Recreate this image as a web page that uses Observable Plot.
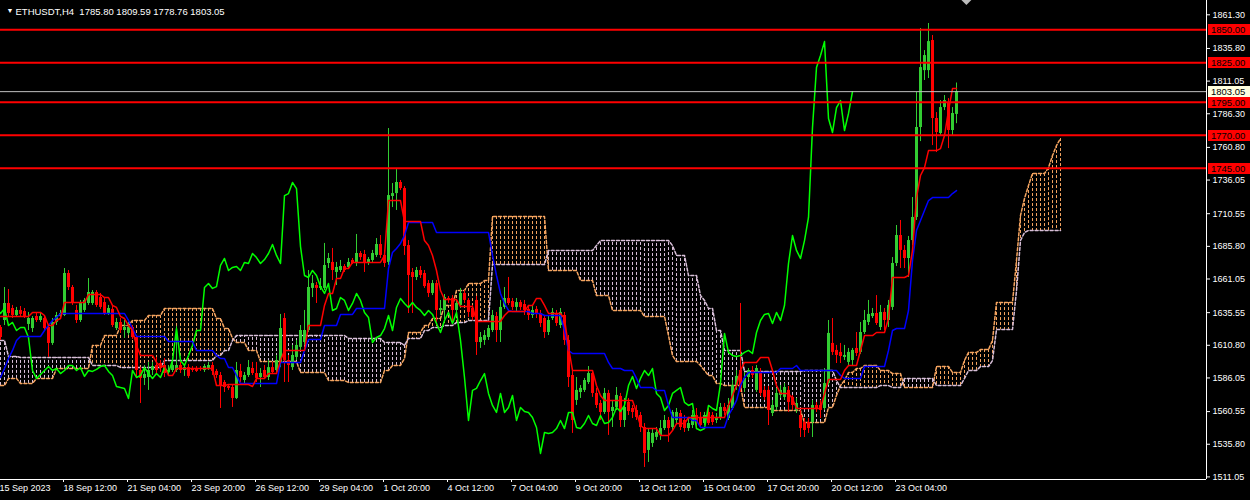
<!DOCTYPE html>
<html><head><meta charset="utf-8">
<script src="https://cdn.jsdelivr.net/npm/d3@7"></script>
<script src="https://cdn.jsdelivr.net/npm/@observablehq/plot@0.6"></script>
<style>
html,body{margin:0;padding:0;background:#000;}
#chart{width:1250px;height:500px;overflow:hidden;}
</style></head><body><div id="chart"></div>
<script>
// ---------- DATA ----------
const symbolTitle = "ETHUSDT,H4  1785.80 1809.59 1778.76 1803.05";
const timeLabels = ["15 Sep 2023","18 Sep 12:00","21 Sep 04:00","23 Sep 20:00","26 Sep 12:00","29 Sep 04:00","1 Oct 20:00","4 Oct 12:00","7 Oct 04:00","9 Oct 20:00","12 Oct 12:00","15 Oct 04:00","17 Oct 20:00","20 Oct 12:00","23 Oct 04:00"];
const timeLabelBars = [0,16,32,48,64,80,96,112,128,144,160,176,192,208,224];
const priceTicks = [1861.30,1835.80,1811.05,1786.30,1760.80,1736.05,1710.55,1685.80,1661.05,1635.55,1610.80,1586.05,1560.55,1535.80,1511.05];
const levels = [1850, 1825, 1795, 1770, 1745];
const lastPrice = 1803.05;

const open = [
1624.3,1629.6,1642.5,1638.7,1633.4,1637.2,1636.4,1626.6,1623.5,1632.6,
1629.6,1631.1,1624.3,1612.2,1628.1,1632.6,1633.4,1665.2,1654.6,1637.2,
1629.6,1637.2,1642.5,1642.5,1650.8,1647.0,1643.2,1634.9,1638.0,1623.5,
1628.1,1622.0,1619.8,1624.3,1616.7,1591.7,1585.7,1586.4,1591.7,1595.5,
1597.0,1595.5,1590.2,1591.7,1591.7,1595.5,1591.7,1593.9,1593.2,1592.5,
1593.2,1591.7,1593.2,1595.5,1591.0,1587.9,1582.6,1579.6,1578.8,1570.5,
1591.0,1584.1,1587.9,1593.2,1589.4,1586.4,1591.7,1586.4,1593.9,1591.7,
1597.8,1631.1,1599.3,1593.9,1601.6,1609.2,1612.9,1622.0,1653.9,1656.1,
1653.9,1653.9,1672.8,1673.6,1666.0,1667.5,1670.5,1669.8,1675.1,1672.8,
1680.4,1679.6,1672.8,1675.1,1678.9,1687.2,1678.9,1673.6,1723.6,1725.8,
1734.2,1729.6,1686.4,1666.0,1662.2,1667.5,1665.2,1657.6,1650.1,1657.6,
1637.2,1637.2,1646.3,1646.3,1637.2,1641.0,1650.1,1644.8,1638.7,1644.8,
1612.9,1614.5,1616.7,1622.0,1632.6,1622.0,1639.5,1646.3,1644.0,1639.5,
1643.2,1641.7,1638.0,1633.4,1638.0,1634.9,1631.1,1620.5,1631.1,1634.9,
1625.8,1633.4,1614.5,1587.9,1569.0,1575.0,1576.6,1582.6,1589.4,1574.3,
1566.7,1559.9,1574.3,1560.6,1563.7,1572.0,1553.8,1567.5,1562.9,1561.4,
1557.6,1548.5,1531.1,1536.4,1541.0,1542.5,1547.7,1553.8,1548.5,1553.8,
1559.1,1553.8,1547.7,1550.0,1557.6,1556.1,1551.5,1559.9,1557.6,1553.8,
1555.3,1563.7,1555.3,1562.9,1580.3,1591.7,1578.1,1586.4,1591.7,1576.6,
1590.2,1576.6,1576.6,1559.1,1563.7,1572.8,1571.3,1576.6,1571.3,1561.4,
1557.6,1552.3,1552.3,1552.3,1565.2,1565.2,1562.9,1581.8,1612.2,1606.9,
1605.4,1601.6,1597.8,1599.3,1608.4,1605.4,1620.5,1628.1,1632.6,1634.9,
1624.3,1635.7,1629.6,1639.5,1672.8,1694.0,1682.7,1676.6,1690.2,1707.7,
1775.9,1819.0,1819.0,1841.8,1782.7,1771.3,1791.0,1794.8,1773.6,1785.80];

const high = [
1625.8,1654.6,1653.1,1641.0,1639.5,1640.2,1638.7,1635.7,1632.6,1634.9,
1635.7,1633.4,1625.8,1631.1,1635.7,1637.2,1669.0,1667.5,1656.1,1641.0,
1644.8,1646.3,1661.4,1652.3,1652.3,1650.1,1646.3,1641.0,1641.0,1631.1,
1631.1,1629.6,1628.1,1625.8,1618.2,1594.0,1595.5,1597.8,1597.8,1601.6,
1599.3,1600.8,1595.5,1600.8,1625.1,1597.8,1596.3,1596.3,1594.7,1594.7,
1594.7,1596.3,1597.8,1597.8,1592.5,1590.2,1584.1,1581.1,1580.3,1597.8,
1596.3,1590.2,1599.3,1597.8,1597.8,1593.2,1595.5,1599.3,1597.8,1603.1,
1634.2,1634.9,1603.1,1610.7,1614.5,1625.8,1637.2,1667.5,1663.7,1658.4,
1661.4,1688.0,1680.4,1684.2,1673.6,1675.1,1672.0,1676.6,1676.6,1694.8,
1681.9,1682.7,1677.3,1682.7,1691.7,1694.0,1682.7,1775.1,1733.4,1744.0,
1735.7,1731.1,1690.2,1669.0,1669.8,1670.5,1667.5,1659.9,1659.9,1659.9,
1644.8,1649.3,1647.8,1648.5,1644.8,1653.9,1652.3,1646.3,1641.0,1647.8,
1620.5,1622.0,1625.8,1637.2,1635.7,1644.8,1654.6,1662.2,1646.3,1646.3,
1644.8,1644.8,1641.0,1641.0,1640.2,1637.2,1633.4,1633.4,1638.7,1637.2,
1638.7,1635.7,1618.2,1591.7,1586.4,1580.3,1585.7,1594.7,1591.7,1578.1,
1569.0,1578.1,1576.6,1569.0,1578.8,1574.3,1570.5,1570.5,1565.2,1565.2,
1559.9,1551.5,1547.7,1547.7,1548.5,1553.8,1557.6,1556.1,1561.4,1562.9,
1561.4,1557.6,1555.3,1561.4,1562.9,1559.9,1559.9,1562.9,1559.9,1559.1,
1566.7,1566.7,1570.5,1584.1,1591.7,1642.5,1590.2,1593.2,1594.7,1595.5,
1593.2,1579.6,1579.6,1569.0,1578.1,1580.3,1581.8,1579.6,1572.8,1570.5,
1561.4,1555.3,1555.3,1569.0,1567.5,1569.0,1593.2,1629.6,1631.1,1610.7,
1612.2,1610.7,1608.4,1608.4,1620.5,1628.1,1637.2,1644.8,1638.7,1648.5,
1641.0,1638.7,1644.8,1677.3,1701.6,1705.4,1686.4,1693.3,1722.8,1802.4,
1850.9,1834.2,1854.7,1845.6,1787.2,1796.3,1800.1,1797.8,1791.0,1809.59];

const low = [
1614.5,1625.8,1632.6,1631.1,1631.9,1632.6,1631.1,1622.0,1620.5,1628.1,
1628.1,1622.0,1601.6,1610.7,1625.8,1631.1,1632.6,1652.3,1641.0,1627.3,
1628.1,1635.7,1641.0,1641.0,1639.5,1638.0,1633.4,1633.4,1624.3,1622.0,
1619.8,1616.0,1618.2,1615.2,1586.4,1566.7,1580.3,1576.6,1587.9,1589.4,
1590.2,1586.4,1587.2,1590.2,1590.2,1589.4,1587.2,1585.7,1590.2,1590.2,
1591.0,1590.2,1591.7,1587.9,1585.7,1562.9,1575.0,1576.6,1563.7,1569.7,
1582.6,1581.1,1586.4,1587.9,1582.6,1578.8,1585.7,1584.1,1588.7,1590.2,
1593.9,1582.6,1582.6,1591.7,1599.3,1606.9,1610.7,1620.5,1647.0,1642.5,
1652.3,1652.3,1669.0,1659.9,1656.1,1666.0,1666.0,1669.0,1672.0,1670.5,
1675.1,1666.0,1671.3,1673.6,1677.3,1676.6,1669.8,1671.3,1715.2,1713.0,
1728.1,1678.9,1634.9,1634.9,1659.9,1661.4,1653.9,1647.0,1648.5,1625.8,
1633.4,1630.4,1642.5,1627.3,1634.9,1638.7,1642.5,1631.9,1629.6,1603.1,
1608.4,1610.7,1614.5,1620.5,1612.9,1612.9,1638.0,1641.0,1637.2,1635.7,
1637.2,1633.4,1629.6,1631.1,1631.1,1624.3,1616.0,1618.2,1629.6,1625.1,
1623.5,1610.7,1578.8,1544.0,1565.2,1570.5,1575.0,1581.1,1571.3,1562.9,
1553.8,1558.4,1542.5,1548.5,1561.4,1548.5,1548.5,1557.6,1555.3,1553.8,
1544.7,1518.2,1522.0,1533.4,1538.7,1538.7,1546.2,1537.2,1546.2,1551.5,
1546.2,1544.7,1545.5,1547.7,1547.7,1547.7,1550.0,1550.0,1550.0,1551.5,
1553.8,1557.6,1553.8,1561.4,1576.6,1575.0,1575.0,1584.1,1585.7,1575.0,
1572.0,1569.0,1550.0,1556.8,1561.4,1570.5,1569.0,1559.9,1561.4,1559.1,
1540.9,1540.9,1544.0,1540.9,1559.9,1555.3,1561.4,1580.3,1603.1,1597.0,
1597.0,1599.3,1595.5,1595.5,1602.3,1603.9,1619.0,1625.8,1631.1,1625.8,
1622.0,1622.0,1624.3,1637.2,1670.5,1669.0,1669.0,1662.2,1686.4,1705.4,
1765.2,1811.5,1813.0,1762.2,1756.9,1769.8,1788.7,1759.9,1769.8,1778.76];

const close = [
1616.7,1642.5,1634.9,1633.4,1637.2,1634.2,1632.6,1631.1,1631.1,1629.6,
1632.6,1623.5,1612.2,1628.1,1633.4,1634.9,1665.2,1654.6,1642.5,1629.6,
1643.2,1644.8,1650.8,1650.8,1641.0,1639.5,1634.9,1638.7,1625.8,1628.1,
1622.0,1624.3,1624.3,1616.7,1591.7,1585.7,1588.7,1591.7,1594.7,1591.7,
1593.2,1589.4,1591.7,1595.5,1595.5,1591.7,1593.9,1587.2,1591.7,1591.0,
1592.5,1594.7,1595.5,1591.0,1587.9,1579.6,1578.8,1578.1,1570.5,1591.7,
1586.4,1587.9,1593.9,1589.4,1585.7,1589.4,1586.4,1593.9,1590.2,1599.3,
1623.5,1599.3,1595.5,1603.1,1610.7,1622.0,1622.0,1654.6,1657.6,1653.9,
1655.3,1671.3,1676.6,1667.5,1669.8,1670.5,1667.5,1673.6,1672.8,1680.4,
1677.3,1672.8,1675.8,1680.4,1687.2,1678.9,1672.8,1724.3,1725.8,1734.2,
1729.6,1685.7,1663.7,1662.2,1667.5,1663.7,1655.3,1650.1,1657.6,1637.2,
1638.7,1647.0,1644.8,1637.2,1642.5,1650.1,1644.8,1635.7,1631.9,1612.9,
1616.7,1618.2,1623.5,1633.4,1622.0,1639.5,1646.3,1642.5,1639.5,1643.2,
1639.5,1637.2,1633.4,1637.2,1634.2,1627.3,1620.5,1629.6,1635.7,1627.3,
1635.7,1614.5,1586.4,1553.8,1576.6,1578.1,1584.1,1589.4,1574.3,1565.2,
1559.9,1574.3,1559.9,1563.7,1572.8,1553.8,1563.7,1560.6,1559.9,1556.1,
1548.5,1528.8,1544.7,1544.0,1544.7,1547.7,1553.8,1547.7,1559.9,1559.9,
1548.5,1547.7,1551.5,1557.6,1551.5,1550.0,1557.6,1551.5,1552.3,1556.1,
1563.7,1560.6,1565.2,1580.3,1587.2,1578.1,1585.7,1591.7,1587.9,1593.2,
1574.3,1571.3,1561.4,1565.2,1574.3,1576.6,1578.8,1567.5,1565.2,1566.7,
1547.7,1546.2,1547.7,1565.2,1562.9,1561.4,1581.8,1619.8,1605.4,1603.1,
1602.3,1603.1,1605.4,1606.9,1604.6,1620.5,1629.6,1634.2,1634.9,1627.3,
1635.7,1629.6,1641.0,1672.8,1694.0,1682.7,1676.6,1690.2,1707.7,1775.9,
1821.3,1830.4,1841.0,1782.7,1772.1,1791.0,1796.3,1773.6,1786.5,1803.05];

// Ichimoku Tenkan-sen (per bar)
const tenkan = [
1632.6,1632.6,1632.6,1632.6,1632.6,1632.6,1632.6,1632.6,1635.7,1635.7,
1635.7,1633.4,1625.8,1625.8,1629.6,1631.1,1643.2,1643.2,1643.2,1643.2,
1643.2,1643.2,1649.3,1649.3,1649.3,1649.3,1647.0,1647.0,1641.0,1639.5,
1632.6,1631.1,1625.8,1622.0,1610.7,1603.1,1603.1,1603.1,1603.1,1597.8,
1594.7,1594.7,1587.9,1587.9,1593.2,1593.2,1593.2,1593.2,1593.2,1593.2,
1593.2,1593.2,1593.2,1593.2,1580.3,1580.3,1580.3,1581.1,1581.1,1581.1,
1581.1,1581.1,1581.1,1579.6,1585.7,1585.7,1585.7,1589.4,1589.4,1589.4,
1599.3,1606.9,1606.9,1606.9,1606.9,1606.9,1606.9,1625.8,1625.8,1625.8,
1625.8,1641.0,1650.1,1650.1,1661.4,1661.4,1669.0,1669.0,1673.6,1673.6,
1673.6,1673.6,1673.6,1673.6,1673.6,1673.6,1678.9,1720.5,1720.5,1720.5,
1720.5,1704.6,1704.6,1704.6,1704.6,1704.6,1690.2,1686.4,1678.9,1667.5,
1652.3,1645.5,1645.5,1645.5,1645.5,1640.2,1640.2,1640.2,1640.2,1628.9,
1628.9,1628.9,1628.9,1628.9,1628.9,1628.9,1633.4,1636.4,1636.4,1636.4,
1636.4,1636.4,1641.0,1641.0,1646.3,1646.3,1641.0,1634.9,1634.9,1634.9,
1634.9,1631.1,1609.2,1591.7,1591.7,1591.7,1591.7,1591.7,1591.7,1580.3,
1572.8,1569.0,1569.0,1569.0,1569.0,1569.0,1569.0,1569.0,1569.0,1559.9,
1550.0,1547.7,1547.7,1547.7,1547.7,1542.5,1542.5,1542.5,1546.2,1551.5,
1551.5,1551.5,1556.1,1556.1,1556.1,1556.1,1556.1,1556.1,1556.1,1556.1,
1556.1,1556.1,1565.2,1572.8,1580.3,1591.7,1597.8,1597.8,1597.8,1597.8,
1601.6,1601.6,1601.6,1591.7,1580.3,1574.3,1574.3,1574.3,1570.5,1562.9,
1562.9,1562.9,1562.9,1562.9,1562.9,1562.9,1574.3,1584.9,1584.9,1584.9,
1584.9,1591.7,1595.5,1595.5,1595.5,1606.9,1618.2,1618.2,1618.2,1620.5,
1620.5,1620.5,1631.1,1662.2,1662.2,1662.2,1662.2,1663.7,1682.7,1722.8,
1739.5,1745.5,1758.4,1758.4,1758.4,1759.9,1769.8,1788.7,1805.4,1805.4];

// Ichimoku Kijun-sen (per bar)
const kijun = [
1586.4,1593.2,1600.8,1606.9,1614.5,1617.5,1617.5,1617.5,1617.5,1617.5,
1617.5,1622.0,1625.8,1629.6,1631.9,1634.9,1634.9,1634.9,1634.9,1634.9,
1634.9,1634.9,1634.9,1634.9,1634.9,1634.9,1634.9,1634.9,1634.9,1634.9,
1634.9,1634.9,1629.6,1623.5,1617.5,1617.5,1617.5,1617.5,1617.5,1617.5,
1617.5,1617.5,1613.7,1613.7,1613.7,1613.7,1613.7,1613.7,1613.7,1606.9,
1606.9,1606.9,1606.9,1606.9,1603.1,1600.8,1600.8,1594.0,1594.0,1587.9,
1581.8,1581.8,1581.8,1581.8,1581.8,1581.8,1581.8,1581.8,1581.8,1581.8,
1597.8,1597.8,1597.8,1597.8,1597.8,1597.8,1606.9,1615.2,1615.2,1615.2,
1615.2,1625.8,1625.8,1625.8,1625.8,1634.2,1634.2,1634.2,1634.2,1638.7,
1638.7,1638.7,1638.7,1638.7,1638.7,1638.7,1638.7,1669.0,1681.1,1684.2,
1688.0,1694.0,1703.9,1703.9,1703.9,1703.9,1703.9,1703.9,1703.9,1696.3,
1696.3,1696.3,1696.3,1696.3,1696.3,1696.3,1696.3,1696.3,1696.3,1696.3,
1696.3,1696.3,1696.3,1678.9,1663.7,1650.1,1642.5,1637.2,1636.4,1636.4,
1636.4,1636.4,1636.4,1634.9,1634.9,1634.9,1633.4,1633.4,1633.4,1633.4,
1633.4,1622.0,1606.9,1604.6,1604.6,1604.6,1604.6,1604.6,1604.6,1604.6,
1604.6,1604.6,1597.8,1593.2,1593.2,1593.2,1591.7,1591.7,1591.7,1585.7,
1578.8,1578.8,1578.8,1578.8,1576.6,1576.6,1576.6,1565.2,1556.1,1556.1,
1556.1,1556.1,1556.1,1553.8,1553.8,1548.5,1548.5,1548.5,1548.5,1548.5,
1548.5,1548.5,1557.6,1562.9,1569.0,1580.3,1586.4,1590.2,1590.2,1590.2,
1590.2,1590.2,1590.2,1590.2,1590.2,1593.2,1593.2,1593.2,1593.2,1595.5,
1591.7,1591.7,1591.7,1591.7,1591.7,1591.7,1591.7,1591.7,1591.7,1591.7,
1587.9,1585.7,1585.7,1585.7,1585.7,1585.7,1594.7,1594.7,1594.7,1594.7,
1594.7,1594.7,1606.9,1622.0,1623.5,1623.5,1623.5,1637.2,1675.1,1697.8,
1705.4,1713.0,1720.5,1722.8,1722.8,1722.8,1722.8,1722.8,1725.8,1728.1];

// Senkou Span A (per bar, 26 bars ahead of price)
const spanA = [
1580.3,1580.3,1585.7,1585.7,1585.7,1581.9,1581.9,1581.9,1581.9,1585.7,
1585.7,1585.7,1585.7,1585.7,1593.2,1593.2,1593.2,1593.2,1593.2,1593.2,
1593.2,1593.2,1593.2,1610.7,1610.7,1610.7,1618.2,1618.2,1618.2,1618.2,
1625.8,1625.8,1625.8,1629.6,1629.6,1629.6,1629.6,1633.4,1633.4,1633.4,
1633.4,1638.7,1638.7,1638.7,1638.7,1638.7,1638.7,1638.7,1638.7,1638.7,
1638.7,1638.7,1638.7,1638.7,1631.1,1631.1,1623.5,1623.5,1616.0,1612.9,
1612.9,1612.9,1606.9,1606.9,1606.9,1598.5,1598.5,1598.5,1598.5,1598.5,
1598.5,1598.5,1598.5,1598.5,1598.5,1590.2,1590.2,1590.2,1590.2,1590.2,
1590.2,1590.2,1584.1,1584.1,1584.1,1584.1,1584.1,1582.6,1582.6,1582.6,
1582.6,1582.6,1582.6,1582.6,1582.6,1582.6,1591.7,1591.7,1595.5,1595.5,
1595.5,1600.8,1620.5,1620.5,1620.5,1620.5,1625.8,1625.8,1631.1,1631.1,
1631.1,1641.0,1641.0,1641.0,1652.3,1652.3,1652.3,1657.6,1657.6,1657.6,
1657.6,1659.9,1659.9,1708.4,1708.4,1708.4,1708.4,1708.4,1708.4,1708.4,
1708.4,1708.4,1708.4,1708.4,1708.4,1708.4,1708.4,1667.5,1667.5,1667.5,
1667.5,1667.5,1667.5,1667.5,1667.5,1659.9,1659.9,1659.9,1659.9,1648.5,
1648.5,1648.5,1648.5,1637.2,1637.2,1637.2,1637.2,1637.2,1637.2,1637.2,
1637.2,1632.6,1632.6,1632.6,1632.6,1632.6,1632.6,1618.2,1603.1,1598.5,
1598.5,1598.5,1598.5,1598.5,1598.5,1595.5,1591.7,1587.9,1587.9,1581.9,
1581.9,1580.3,1580.3,1580.3,1580.3,1580.3,1563.7,1563.7,1563.7,1563.7,
1563.7,1563.7,1563.7,1561.4,1561.4,1561.4,1561.4,1561.4,1561.4,1561.4,
1561.4,1552.3,1552.3,1552.3,1552.3,1552.3,1552.3,1563.7,1563.7,1572.8,
1580.3,1584.1,1590.2,1590.2,1593.2,1593.2,1595.5,1595.5,1595.5,1595.5,
1591.7,1591.7,1591.7,1589.4,1589.4,1589.4,1578.8,1578.8,1578.8,1578.8,
1578.8,1578.8,1578.8,1578.8,1594.7,1594.7,1594.7,1594.7,1590.2,1590.2,
1590.2,1599.3,1605.4,1605.4,1605.4,1607.6,1607.6,1607.6,1614.5,1643.2,
1643.2,1643.2,1643.2,1643.2,1675.1,1709.2,1722.1,1731.9,1741.0,1741.0,
1741.0,1741.0,1745.5,1754.6,1762.2,1767.5];

// Senkou Span B (per bar, 26 bars ahead of price)
const spanB = [
1614.5,1614.5,1602.3,1602.3,1602.3,1601.6,1601.6,1601.6,1601.6,1601.6,
1601.6,1601.6,1601.6,1601.6,1601.6,1601.6,1601.6,1601.6,1601.6,1601.6,
1601.6,1601.6,1601.6,1595.5,1595.5,1595.5,1595.5,1595.5,1595.5,1595.5,
1594.0,1594.0,1594.0,1594.0,1594.0,1594.0,1594.0,1594.0,1594.0,1594.0,
1594.0,1599.3,1599.3,1599.3,1599.3,1599.3,1599.3,1599.3,1599.3,1599.3,
1599.3,1599.3,1599.3,1599.3,1603.1,1603.1,1606.9,1606.9,1614.5,1618.2,
1618.2,1618.2,1618.2,1618.2,1618.2,1618.2,1618.2,1618.2,1618.2,1618.2,
1618.2,1618.2,1618.2,1618.2,1618.2,1618.2,1618.2,1618.2,1618.2,1618.2,
1618.2,1618.2,1618.2,1618.2,1618.2,1618.2,1618.2,1616.0,1616.0,1616.0,
1616.0,1616.0,1616.0,1616.0,1616.0,1616.0,1612.9,1612.9,1612.9,1612.9,
1612.9,1610.7,1616.0,1616.0,1616.0,1616.0,1622.0,1622.0,1624.3,1624.3,
1624.3,1625.8,1625.8,1625.8,1628.1,1628.1,1628.1,1629.6,1629.6,1629.6,
1629.6,1629.6,1629.6,1672.0,1672.0,1672.0,1672.0,1672.0,1672.0,1672.0,
1672.0,1672.0,1672.0,1672.0,1672.0,1672.0,1672.0,1682.7,1682.7,1682.7,
1682.7,1682.7,1682.7,1682.7,1682.7,1682.7,1682.7,1682.7,1682.7,1686.4,
1690.2,1690.2,1690.2,1690.2,1690.2,1690.2,1690.2,1690.2,1690.2,1690.2,
1690.2,1690.2,1690.2,1690.2,1690.2,1690.2,1690.2,1690.2,1686.4,1678.9,
1678.9,1678.9,1663.7,1663.7,1663.7,1648.5,1644.8,1638.7,1638.7,1622.0,
1622.0,1606.9,1606.9,1606.9,1606.9,1606.9,1591.0,1591.0,1591.0,1591.0,
1591.0,1591.0,1591.0,1591.0,1591.0,1591.0,1591.0,1591.0,1591.0,1591.0,
1591.0,1591.7,1591.7,1591.7,1591.7,1591.7,1591.7,1591.7,1591.7,1584.1,
1578.8,1578.8,1578.8,1578.8,1578.8,1578.8,1578.8,1578.8,1578.8,1578.8,
1580.3,1580.3,1580.3,1578.8,1578.8,1578.8,1585.7,1585.7,1585.7,1585.7,
1585.7,1585.7,1585.7,1585.7,1580.3,1580.3,1580.3,1580.3,1580.3,1580.3,
1580.3,1585.7,1591.7,1591.7,1591.7,1594.7,1594.7,1594.7,1599.3,1622.8,
1622.8,1622.8,1622.8,1622.8,1652.3,1690.2,1696.3,1697.8,1697.8,1697.8,
1697.8,1697.8,1697.8,1697.8,1697.8,1697.8];

// ---------- CHART ----------
const BULL = "#32CD32", BEAR = "#FF0000";
const FONT = "'Liberation Sans', Arial, sans-serif";
const xDomain = [0, 301.5];
const yDomain = [1509.08, 1872.14];

const candles = open.map((o, i) => ({i, o, h: high[i], l: low[i], c: close[i]}));
const candleColor = d => (d.c >= d.o ? BULL : BEAR);
const cloud = spanA.map((a, i) => ({i, a, b: spanB[i]}));
const chikou = close.map((c, i) => ({i: i - 26, c}));
const tk = tenkan.map((v, i) => ({i, v}));
const kj = kijun.map((v, i) => ({i, v}));

const chart = Plot.plot({
  width: 1250, height: 500,
  marginLeft: 0, marginRight: 44, marginTop: 0, marginBottom: 21,
  style: {background: "#000", color: "#fff", fontFamily: FONT, fontSize: "9px", overflow: "visible"},
  x: {domain: xDomain, axis: null, label: null},
  y: {domain: yDomain, axis: null, label: null},
  marks: [
    // Kumo hatch
    Plot.ruleX(cloud, {x: "i", y1: "a", y2: "b", stroke: d => (d.a >= d.b ? "#F4A460" : "#D8BFD8"), strokeDasharray: "3,2", clip: true}),
    Plot.line(cloud, {x: "i", y: "a", stroke: "#F4A460", strokeDasharray: "3,2", clip: true}),
    Plot.line(cloud, {x: "i", y: "b", stroke: "#D8BFD8", strokeDasharray: "3,2", clip: true}),
    // candles
    Plot.ruleX(candles, {x: "i", y1: "l", y2: "h", stroke: candleColor, clip: true}),
    Plot.ruleX(candles, {x: "i", y1: "o", y2: "c", stroke: candleColor, strokeWidth: 3, clip: true}),
    // Ichimoku lines
    Plot.line(chikou, {x: "i", y: "c", stroke: "#00FF00", clip: true}),
    Plot.line(kj, {x: "i", y: "v", stroke: "#0000FF", clip: true}),
    Plot.line(tk, {x: "i", y: "v", stroke: "#FF0000", clip: true}),
    // price line + levels
    Plot.ruleY([lastPrice], {stroke: "#C0C0C0"}),
    Plot.ruleY(levels, {stroke: "#FF0000", strokeWidth: 2}),
    // axes
    Plot.axisY(priceTicks, {anchor: "right", label: null, tickSize: 3, tickPadding: 3, tickFormat: d => d.toFixed(2), fill: "#fff", stroke: "#fff"}),
    Plot.axisX(timeLabelBars, {anchor: "bottom", label: null, tickSize: 3, tickPadding: 2, textAnchor: "start", dx: -1, fill: "#fff", stroke: "#fff",
      tickFormat: d => timeLabels[timeLabelBars.indexOf(d)]}),
    Plot.ruleX([xDomain[1]], {stroke: "#fff"}),
    Plot.ruleY([yDomain[0]], {stroke: "#fff"}),
    // header
    Plot.text(["\u25BC"], {frameAnchor: "top-left", dx: 6, dy: 8, fontSize: 7, fill: "#fff"}),
    Plot.text([symbolTitle], {frameAnchor: "top-left", dx: 15, dy: 8, textAnchor: "start", fill: "#fff", fontSize: 9.5})
  ]
});
document.getElementById("chart").appendChild(chart);

// price label boxes on the right scale
const ys = chart.scale("y"), xs = chart.scale("x");
const svg = d3.select(chart);
const g = svg.append("g").attr("font-family", FONT).attr("font-size", 9.5).attr("text-anchor", "start");
const boxX = 1250 - 44 + 2;
function box(v, bg, fg) {
  const y = ys.apply(v);
  g.append("rect").attr("x", boxX).attr("y", Math.round(y) - 5).attr("width", 42).attr("height", 11).attr("fill", bg);
  g.append("text").attr("x", boxX + 3).attr("y", Math.round(y) + 0.5).attr("dy", "0.35em")
    .attr("text-anchor", "start").attr("fill", fg).text(v.toFixed(2));
}
levels.forEach(v => box(v, "#FF0000", "#000"));
box(lastPrice, "#FFFFE0", "#000");
// chart-shift marker
const cx = xs.apply(open.length + 1.6);
g.append("path").attr("d", `M${cx - 5},0L${cx + 5},0L${cx},5Z`).attr("fill", "#BBBBBB");
</script>
</body></html>
